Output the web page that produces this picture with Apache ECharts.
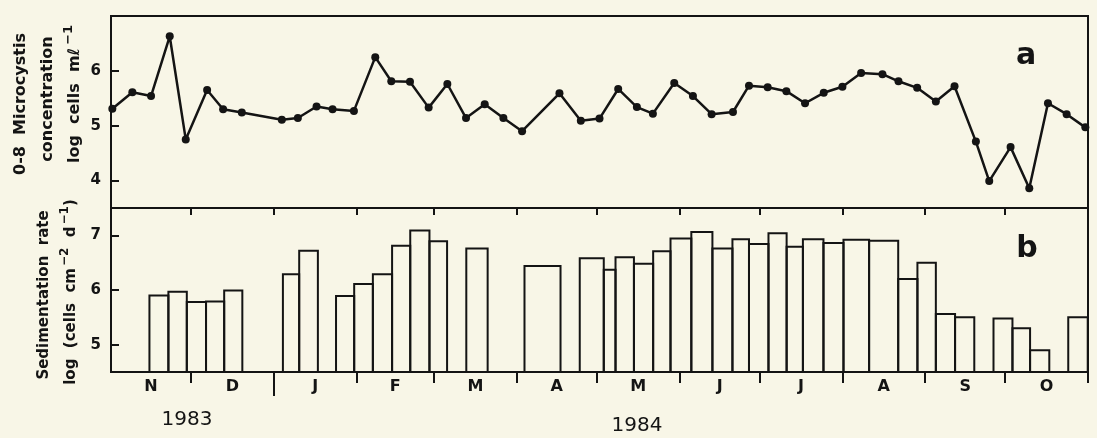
<!DOCTYPE html>
<html>
<head>
<meta charset="utf-8">
<script src="https://cdn.jsdelivr.net/npm/echarts@6/dist/echarts.min.js"></script>
<style>
html, body { margin: 0; padding: 0; background: #f8f6e7; }
#main { width: 1097px; height: 438px; }
</style>
</head>
<body>
<div id="main"></div>
<script>
// x values are days counted from 1 Nov 1983
var monthNames = ['N', 'D', 'J', 'F', 'M', 'A', 'M', 'J', 'J', 'A', 'S', 'O'];
var monthDays = [30, 31, 31, 29, 31, 30, 31, 30, 31, 31, 30, 31];

// panel a - 0-8 m Microcystis, log cells per ml
var sampleDay = [0.5, 8, 15, 22, 28, 36, 42, 49, 64, 70, 77, 83, 91, 99, 105, 112, 119, 126, 133, 140,
  147, 154, 168, 176, 183, 190, 197, 203, 211, 218, 225, 233, 239, 246, 253, 260, 267, 274, 281, 289,
  295, 302, 309, 316, 324, 329, 337, 344, 351, 358, 365];
var concLog = [5.31, 5.61, 5.54, 6.63, 4.75, 5.65, 5.30, 5.24, 5.11, 5.14, 5.35, 5.30, 5.27, 6.25, 5.81,
  5.80, 5.33, 5.76, 5.14, 5.39, 5.14, 4.90, 5.59, 5.09, 5.13, 5.67, 5.34, 5.22, 5.78, 5.54, 5.21, 5.25,
  5.73, 5.70, 5.63, 5.41, 5.60, 5.71, 5.96, 5.94, 5.81, 5.69, 5.44, 5.72, 4.71, 3.99, 4.61, 3.86, 5.41,
  5.21, 4.97];

// panel b - sedimentation rate, log cells cm-2 d-1, one bar per trap period
var barStart = [14.4, 21.5, 28.4, 35.6, 42.4, 64.4, 70.5, 84.3, 91.1, 98.1, 105.3, 112.1, 119.3, 133.1,
  154.9, 175.6, 184.6, 189, 195.9, 203.1, 209.6, 217.4, 225.3, 232.8, 239, 246.3, 253.1, 259.2, 266.9,
  274.4, 284, 294.9, 302.1, 309, 316.2, 330.6, 337.7, 344.3, 358.6];
var barEnd = [21.5, 28.4, 35.6, 42.4, 49.2, 70.5, 77.5, 91.1, 98.1, 105.3, 112.1, 119.3, 125.9, 141.1,
  168.4, 184.6, 189, 195.9, 203.1, 209.6, 217.4, 225.3, 232.8, 239, 246.3, 253.1, 259.2, 266.9, 274.4,
  284, 294.9, 302.1, 309, 316.2, 323.4, 337.7, 344.3, 351.5, 365.9];
var sedLog = [5.90, 5.97, 5.78, 5.79, 5.99, 6.29, 6.72, 5.89, 6.11, 6.29, 6.81, 7.09, 6.89, 6.76, 6.44,
  6.58, 6.37, 6.60, 6.48, 6.71, 6.94, 7.06, 6.76, 6.93, 6.84, 7.04, 6.79, 6.93, 6.86, 6.92, 6.90, 6.20,
  6.50, 5.56, 5.50, 5.48, 5.30, 4.90, 5.50];

var concTicks = [4, 5, 6];
var sedTicks = [5, 6, 7];

var ink = '#141414';
var font = 'DejaVu Sans';

// month boundaries and mid points
var monthStart = [0];
var monthMid = [];
for (var i = 0; i < monthDays.length; i++) {
  monthMid.push(monthStart[i] + monthDays[i] / 2);
  monthStart.push(monthStart[i] + monthDays[i]);
}
var yearEnd = monthStart[2]; // 1 Jan 1984
var totalDays = monthStart[monthStart.length - 1];

var lineData = sampleDay.map(function (d, i) { return [d, concLog[i]]; });
var barData = barStart.map(function (s, i) { return [s, barEnd[i], sedLog[i]]; });

var sedMin = 4.5;

var chart = echarts.init(document.getElementById('main'));
chart.setOption({
  backgroundColor: '#f8f6e7',
  animation: false,
  grid: [
    { left: 111, right: 9, top: 16, height: 192, show: true, borderColor: ink, borderWidth: 2 },
    { left: 111, right: 9, top: 208, height: 164, show: true, borderColor: ink, borderWidth: 2 }
  ],
  xAxis: [
    { gridIndex: 0, type: 'value', min: 0, max: totalDays,
      axisLine: { show: false }, axisTick: { show: false }, axisLabel: { show: false }, splitLine: { show: false } },
    { gridIndex: 1, type: 'value', min: 0, max: totalDays, position: 'bottom',
      axisLine: { show: true, lineStyle: { color: ink, width: 2 } },
      axisTick: { show: true, inside: false, length: 11, customValues: monthStart.slice(1), lineStyle: { color: ink, width: 2 } },
      axisLabel: { customValues: monthMid, margin: 7, color: ink, fontFamily: font, fontWeight: 'bold', fontSize: 16,
        formatter: function (v) { return monthNames[monthMid.indexOf(v)] || ''; } },
      splitLine: { show: false } },
    { gridIndex: 1, type: 'value', min: 0, max: totalDays, position: 'bottom',
      axisLine: { show: false },
      axisTick: { show: true, inside: false, length: 24, customValues: [yearEnd], lineStyle: { color: ink, width: 2 } },
      axisLabel: { show: false }, splitLine: { show: false } },
    { gridIndex: 1, type: 'value', min: 0, max: totalDays, position: 'top',
      axisLine: { show: false },
      axisTick: { show: true, inside: true, length: 7, customValues: monthStart.slice(1, -1), lineStyle: { color: ink, width: 2 } },
      axisLabel: { show: false }, splitLine: { show: false } }
  ],
  yAxis: [
    { gridIndex: 0, type: 'value', min: 3.5, max: 7,
      axisLine: { show: true, lineStyle: { color: ink, width: 2 } },
      axisTick: { inside: true, length: 8, customValues: concTicks, lineStyle: { color: ink, width: 2 } },
      axisLabel: { customValues: concTicks, margin: 10, color: ink, fontFamily: font, fontWeight: 'bold', fontSize: 15 },
      splitLine: { show: false } },
    { gridIndex: 1, type: 'value', min: sedMin, max: 7.5,
      axisLine: { show: true, lineStyle: { color: ink, width: 2 } },
      axisTick: { inside: true, length: 8, customValues: sedTicks, lineStyle: { color: ink, width: 2 } },
      axisLabel: { customValues: sedTicks, margin: 10, color: ink, fontFamily: font, fontWeight: 'bold', fontSize: 15 },
      splitLine: { show: false } }
  ],
  series: [
    {
      type: 'line',
      xAxisIndex: 0,
      yAxisIndex: 0,
      data: lineData,
      symbol: 'circle',
      symbolSize: 8,
      lineStyle: { color: ink, width: 2.5 },
      itemStyle: { color: ink }
    },
    {
      type: 'custom',
      xAxisIndex: 1,
      yAxisIndex: 1,
      data: barData,
      encode: { x: [0, 1], y: 2 },
      renderItem: function (params, api) {
        var p0 = api.coord([api.value(0), api.value(2)]);
        var p1 = api.coord([api.value(1), sedMin]);
        return {
          type: 'rect',
          shape: { x: p0[0], y: p0[1], width: p1[0] - p0[0], height: p1[1] - p0[1] },
          style: { fill: 'none', stroke: ink, lineWidth: 2 }
        };
      }
    }
  ],
  graphic: [
    { type: 'text', x: 21, y: 104, rotation: Math.PI / 2,
      style: { text: '0-8  Microcystis', fill: ink, font: 'bold 16px ' + font, align: 'center', verticalAlign: 'middle' } },
    { type: 'text', x: 48, y: 99, rotation: Math.PI / 2,
      style: { text: 'concentration', fill: ink, font: 'bold 16px ' + font, align: 'center', verticalAlign: 'middle' } },
    { type: 'text', x: 75, y: 94, rotation: Math.PI / 2,
      style: { text: 'log  cells  mℓ{s|−1}', fill: ink, font: 'bold 16px ' + font, align: 'center', verticalAlign: 'middle',
        rich: { s: { fill: ink, font: 'bold 13px ' + font, padding: [0, 0, 12, 3] } } } },
    { type: 'text', x: 44, y: 295, rotation: Math.PI / 2,
      style: { text: 'Sedimentation  rate', fill: ink, font: 'bold 15px ' + font, align: 'center', verticalAlign: 'middle' } },
    { type: 'text', x: 71, y: 292, rotation: Math.PI / 2,
      style: { text: 'log  (cells  cm{s|−2}  d{s|−1})', fill: ink, font: 'bold 15px ' + font, align: 'center', verticalAlign: 'middle',
        rich: { s: { fill: ink, font: 'bold 12px ' + font, padding: [0, 0, 12, 2] } } } },
    { type: 'text', x: 1026, y: 56,
      style: { text: 'a', fill: ink, font: 'bold 30px ' + font, align: 'center', verticalAlign: 'middle' } },
    { type: 'text', x: 1027, y: 249,
      style: { text: 'b', fill: ink, font: 'bold 30px ' + font, align: 'center', verticalAlign: 'middle' } },
    { type: 'text', x: 187, y: 420,
      style: { text: '1983', fill: ink, font: '20px ' + font, align: 'center', verticalAlign: 'middle' } },
    { type: 'text', x: 637, y: 426,
      style: { text: '1984', fill: ink, font: '20px ' + font, align: 'center', verticalAlign: 'middle' } }
  ]
});
</script>
</body>
</html>
